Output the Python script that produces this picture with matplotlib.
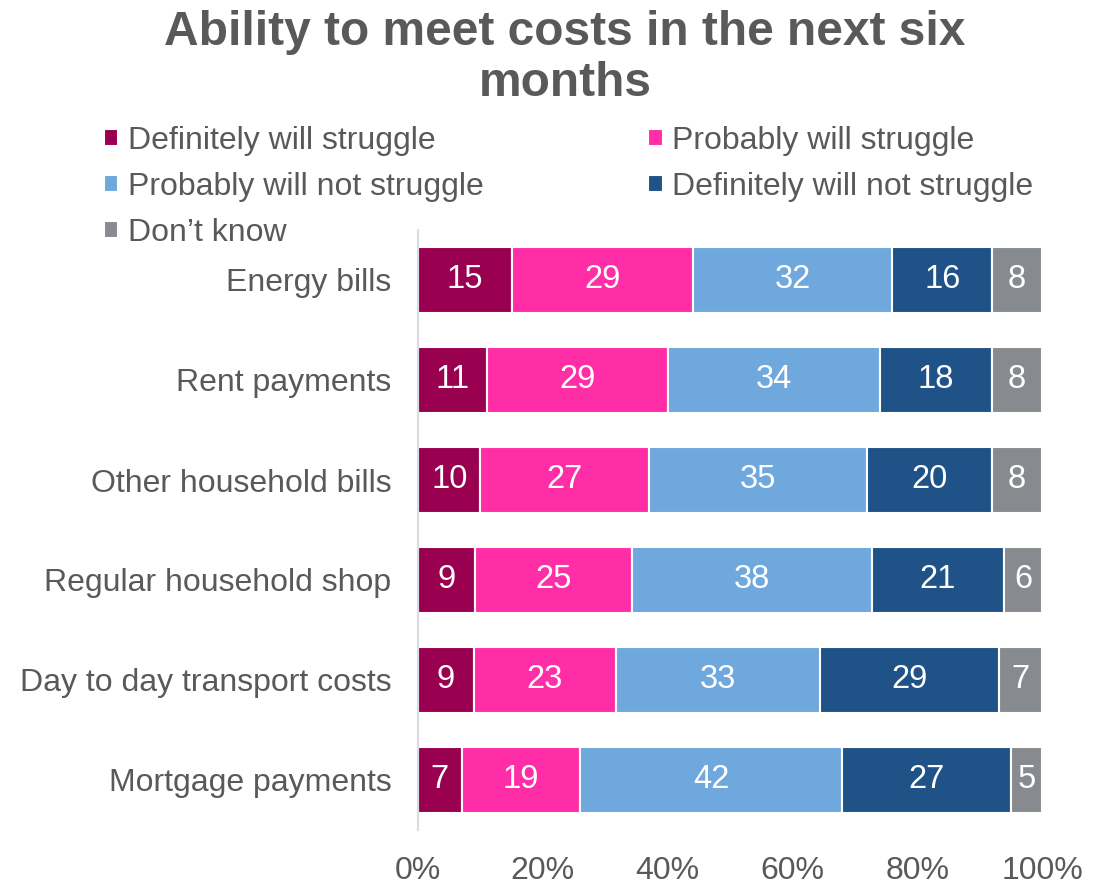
import matplotlib.pyplot as plt
import numpy as np

plt.rcParams['font.family'] = ['Liberation Sans', 'DejaVu Sans']

# survey results, % of respondents
categories = ["Energy bills", "Rent payments", "Other household bills",
              "Regular household shop", "Day to day transport costs",
              "Mortgage payments"]
responses = ["Definitely will struggle", "Probably will struggle",
             "Probably will not struggle", "Definitely will not struggle",
             "Don\u2019t know"]
definitely_struggle = [15, 11, 10, 9, 9, 7]
probably_struggle = [29, 29, 27, 25, 23, 19]
probably_not_struggle = [32, 34, 35, 38, 33, 42]
definitely_not_struggle = [16, 18, 20, 21, 29, 27]
dont_know = [8, 8, 8, 6, 7, 5]
tick_labels = ["0%", "20%", "40%", "60%", "80%", "100%"]

colors = ["#990050", "#FF2EA6", "#6FA8DC", "#1F5387", "#878B8F"]
grey = "#595959"

series = np.array([definitely_struggle, probably_struggle,
                   probably_not_struggle, definitely_not_struggle, dont_know],
                  dtype=float)
# 100% stacked: each row scaled to its own total
shares = series / series.sum(axis=0) * 100

fig = plt.figure(figsize=(11.06, 8.85), dpi=100)
ax = fig.add_axes([418 / 1106, 1 - 830 / 885, 624 / 1106, 600 / 885])

y = np.arange(len(categories))
left = np.zeros(len(categories))
bars = []
for i, name in enumerate(responses):
    b = ax.barh(y, shares[i], left=left, height=0.66, color=colors[i],
                edgecolor="white", linewidth=1.5, label=name)
    bars.append(b)
    for yi, (l, w, v) in enumerate(zip(left, shares[i], series[i])):
        ax.text(l + w / 2, yi, f"{v:.0f}", ha="center", va="center",
                color="white", fontsize=23.5)
    left = left + shares[i]

ax.set_xlim(0, 100)
ax.set_ylim(len(categories) - 0.5, -0.5)
ax.set_yticks(y, categories)
ax.set_xticks(np.arange(0, 101, 20), tick_labels)
ax.tick_params(axis="y", length=0, pad=19, labelsize=23, labelcolor=grey)
ax.tick_params(axis="x", length=0, pad=18.5, labelsize=23, labelcolor=grey)
for side in ["top", "right", "bottom"]:
    ax.spines[side].set_visible(False)
ax.spines["left"].set_color("#D9DDE3")
ax.spines["left"].set_linewidth(1.5)

fig.text(565 / 1106, 1 - 58 / 885,
         "Ability to meet costs in the next six\nmonths",
         ha="center", va="center", fontsize=34.5, fontweight="bold",
         color=grey, linespacing=1.15)

# legend fills column-wise, so order handles to read row by row
order = [0, 2, 4, 1, 3]
fig.legend([bars[i] for i in order], [responses[i] for i in order],
           ncol=2, loc="upper left", bbox_to_anchor=(104 / 1106, 1 - 126 / 885),
           frameon=False, fontsize=23, labelcolor=grey,
           handlelength=0.45, handleheight=0.45, handletextpad=0.3,
           columnspacing=5.15, labelspacing=0.5, borderpad=0,
           borderaxespad=0)

fig.savefig("out.png", dpi=100)
